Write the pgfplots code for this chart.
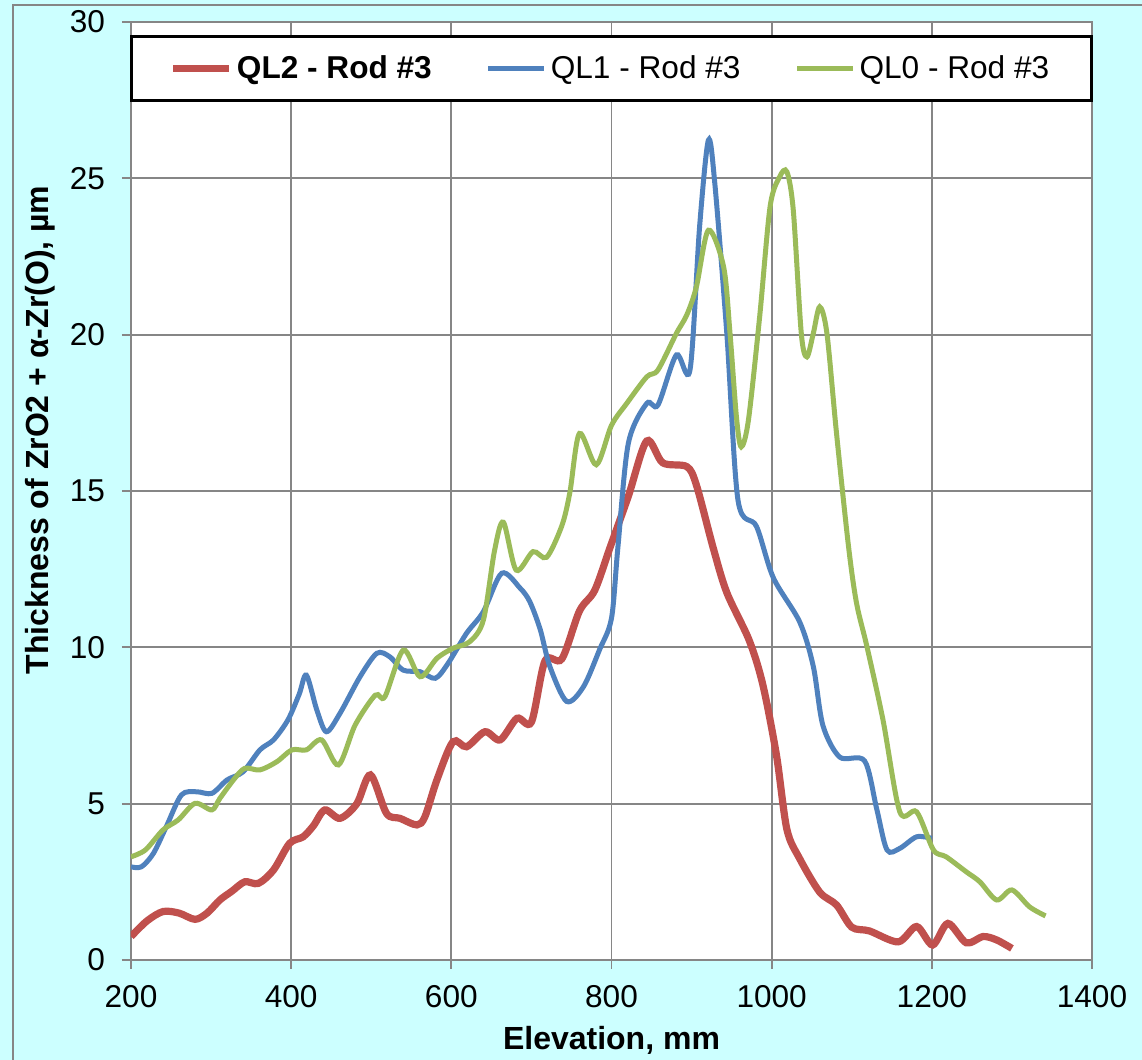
\documentclass[border=0pt]{standalone}
\usepackage{fontspec}
\setmainfont{Liberation Sans}
\usepackage{pgfplots}
\pgfplotsset{compat=1.18}

\definecolor{bgcyan}{HTML}{CCFFFF}
\definecolor{gridgray}{HTML}{868686}
\definecolor{qltwo}{HTML}{C0504D}
\definecolor{qlone}{HTML}{4F81BD}
\definecolor{qlzero}{HTML}{9BBB59}

\begin{document}
\begin{tikzpicture}
% chart area background and border
\fill[bgcyan] (-65.5pt,-50pt) rectangle (505.5pt,480pt);
\draw[gridgray, line width=0.6pt] (-59pt,-50pt) -- (-59pt,477.5pt) -- (505.5pt,477.5pt);

\begin{axis}[
    at={(0pt,0pt)}, anchor=south west,
    scale only axis,
    width=480.5pt, height=469pt,
    xmin=200, xmax=1400, ymin=0, ymax=30,
    xtick={200,400,...,1400},
    ytick={0,5,...,30},
    xtick pos=bottom, ytick pos=left,
    tick align=outside,
    major tick length=4.5pt,
    every tick/.style={gridgray, line width=0.9pt},
    grid=major,
    major grid style={gridgray, line width=0.9pt},
    axis line style={gridgray, line width=0.9pt},
    axis background/.style={fill=white},
    /pgf/number format/assume math mode=true,
    /pgf/number format/1000 sep={},
    ticklabel style={font=\fontsize{15.8}{19}\selectfont},
    xticklabel style={anchor=center, yshift=-14pt},
    yticklabel style={anchor=east, xshift=-5pt},
    xlabel={Elevation, mm},
    ylabel={Thickness of ZrO2 + α-Zr(O), µm},
    label style={font=\fontsize{16}{19}\selectfont\bfseries},
    xlabel style={at={(axis description cs:0.5,-0.0853)}, anchor=center},
    ylabel style={at={(axis description cs:-0.0947,0.565)}, anchor=center},
    legend columns=3,
    legend image code/.code={\draw[#1] (0pt,0pt) -- (28pt,0pt);},
    legend style={
        at={(axis description cs:0.5,0.986)}, anchor=north,
        draw=black, line width=1.5pt, fill=white,
        inner xsep=19.3pt, inner ysep=7.5pt,
        font=\fontsize{15.8}{19}\selectfont,
        /tikz/every even column/.append style={column sep=25pt},
    },
]

\addplot[qltwo, line width=3.6pt, smooth] coordinates {
(200,0.75)(220,1.25)(240,1.55)(260,1.5)(280,1.3)(295,1.5)(311,1.92)(326,2.2)
(342,2.5)(359,2.45)(378,2.88)(398,3.73)(415,3.94)(428,4.3)(442,4.8)(461,4.53)
(482,5.0)(499,5.92)(519,4.69)(536,4.53)(557,4.32)(567,4.58)(582,5.76)(602,6.98)
(619,6.82)(642,7.3)(661,7.04)(682,7.73)(700,7.61)(717,9.57)(738,9.63)(760,11.16)
(779,11.82)(798,13.18)(821,14.83)(844,16.6)(864,15.9)(894,15.78)(906,15.19)
(927,13.18)(944,11.75)(972,10.22)(989,8.8)(1006,6.55)(1019,4.18)(1035,3.24)
(1060,2.17)(1081,1.76)(1100,1.05)(1122,0.93)(1158,0.58)(1181,1.07)(1201,0.48)
(1220,1.17)(1243,0.55)(1264,0.75)(1281,0.64)(1300,0.37)
};
\addlegendentry{\bfseries QL2 - Rod \#3}

\addplot[qlone, line width=2.5pt, smooth] coordinates {
(200,2.98)(213,2.98)(228,3.41)(244,4.26)(263,5.28)(282,5.38)(301,5.33)(320,5.76)
(340,6.02)(361,6.72)(378,7.04)(396,7.68)(410,8.5)(419,9.11)(432,8.0)(444,7.3)
(461,7.89)(486,9.06)(507,9.81)(523,9.7)(540,9.27)(561,9.22)(580,9.01)(596,9.49)
(619,10.45)(640,11.14)(663,12.37)(686,11.89)(698,11.46)(711,10.57)(723,9.39)
(744,8.27)(765,8.74)(785,9.92)(800,10.93)(808,13.2)(821,16.52)(844,17.8)
(858,17.75)(881,19.35)(898,18.87)(910,23.45)(921,26.22)(929,24.84)(944,20.04)
(958,14.7)(981,13.87)(1002,12.23)(1035,10.81)(1052,9.39)(1064,7.5)(1085,6.49)
(1116,6.37)(1131,4.85)(1144,3.52)(1160,3.57)(1181,3.94)(1200,3.89)
};
\addlegendentry{QL1 - Rod \#3}

\addplot[qlzero, line width=2.5pt, smooth] coordinates {
(200,3.3)(218,3.52)(240,4.16)(259,4.48)(280,5.01)(301,4.8)(311,5.17)(328,5.76)
(342,6.13)(361,6.08)(382,6.34)(401,6.72)(419,6.72)(438,7.04)(459,6.24)(480,7.52)
(505,8.47)(517,8.42)(540,9.91)(561,9.06)(582,9.65)(602,9.97)(623,10.18)(640,10.87)
(654,13.1)(665,14.0)(681,12.47)(702,13.06)(719,12.88)(738,13.89)(748,14.95)
(760,16.84)(781,15.84)(800,17.1)(819,17.8)(844,18.65)(858,18.87)(881,20.04)
(894,20.63)(906,21.53)(921,23.34)(940,22.17)(948,20.04)(956,17.37)(962,16.41)
(971,17.27)(985,20.57)(998,24.09)(1010,25.05)(1019,25.21)(1027,23.98)(1037,20.04)
(1044,19.29)(1052,20.04)(1060,20.89)(1069,20.04)(1081,16.84)(1096,13.22)
(1106,11.41)(1119,10.02)(1139,7.68)(1160,4.74)(1181,4.74)(1202,3.52)(1218,3.3)
(1243,2.82)(1260,2.5)(1281,1.92)(1300,2.24)(1322,1.7)(1342,1.41)
};
\addlegendentry{QL0 - Rod \#3}

\end{axis}
\pgfresetboundingbox
\path (-65.5pt,-50pt) rectangle (505.5pt,480pt);
\end{tikzpicture}
\end{document}
